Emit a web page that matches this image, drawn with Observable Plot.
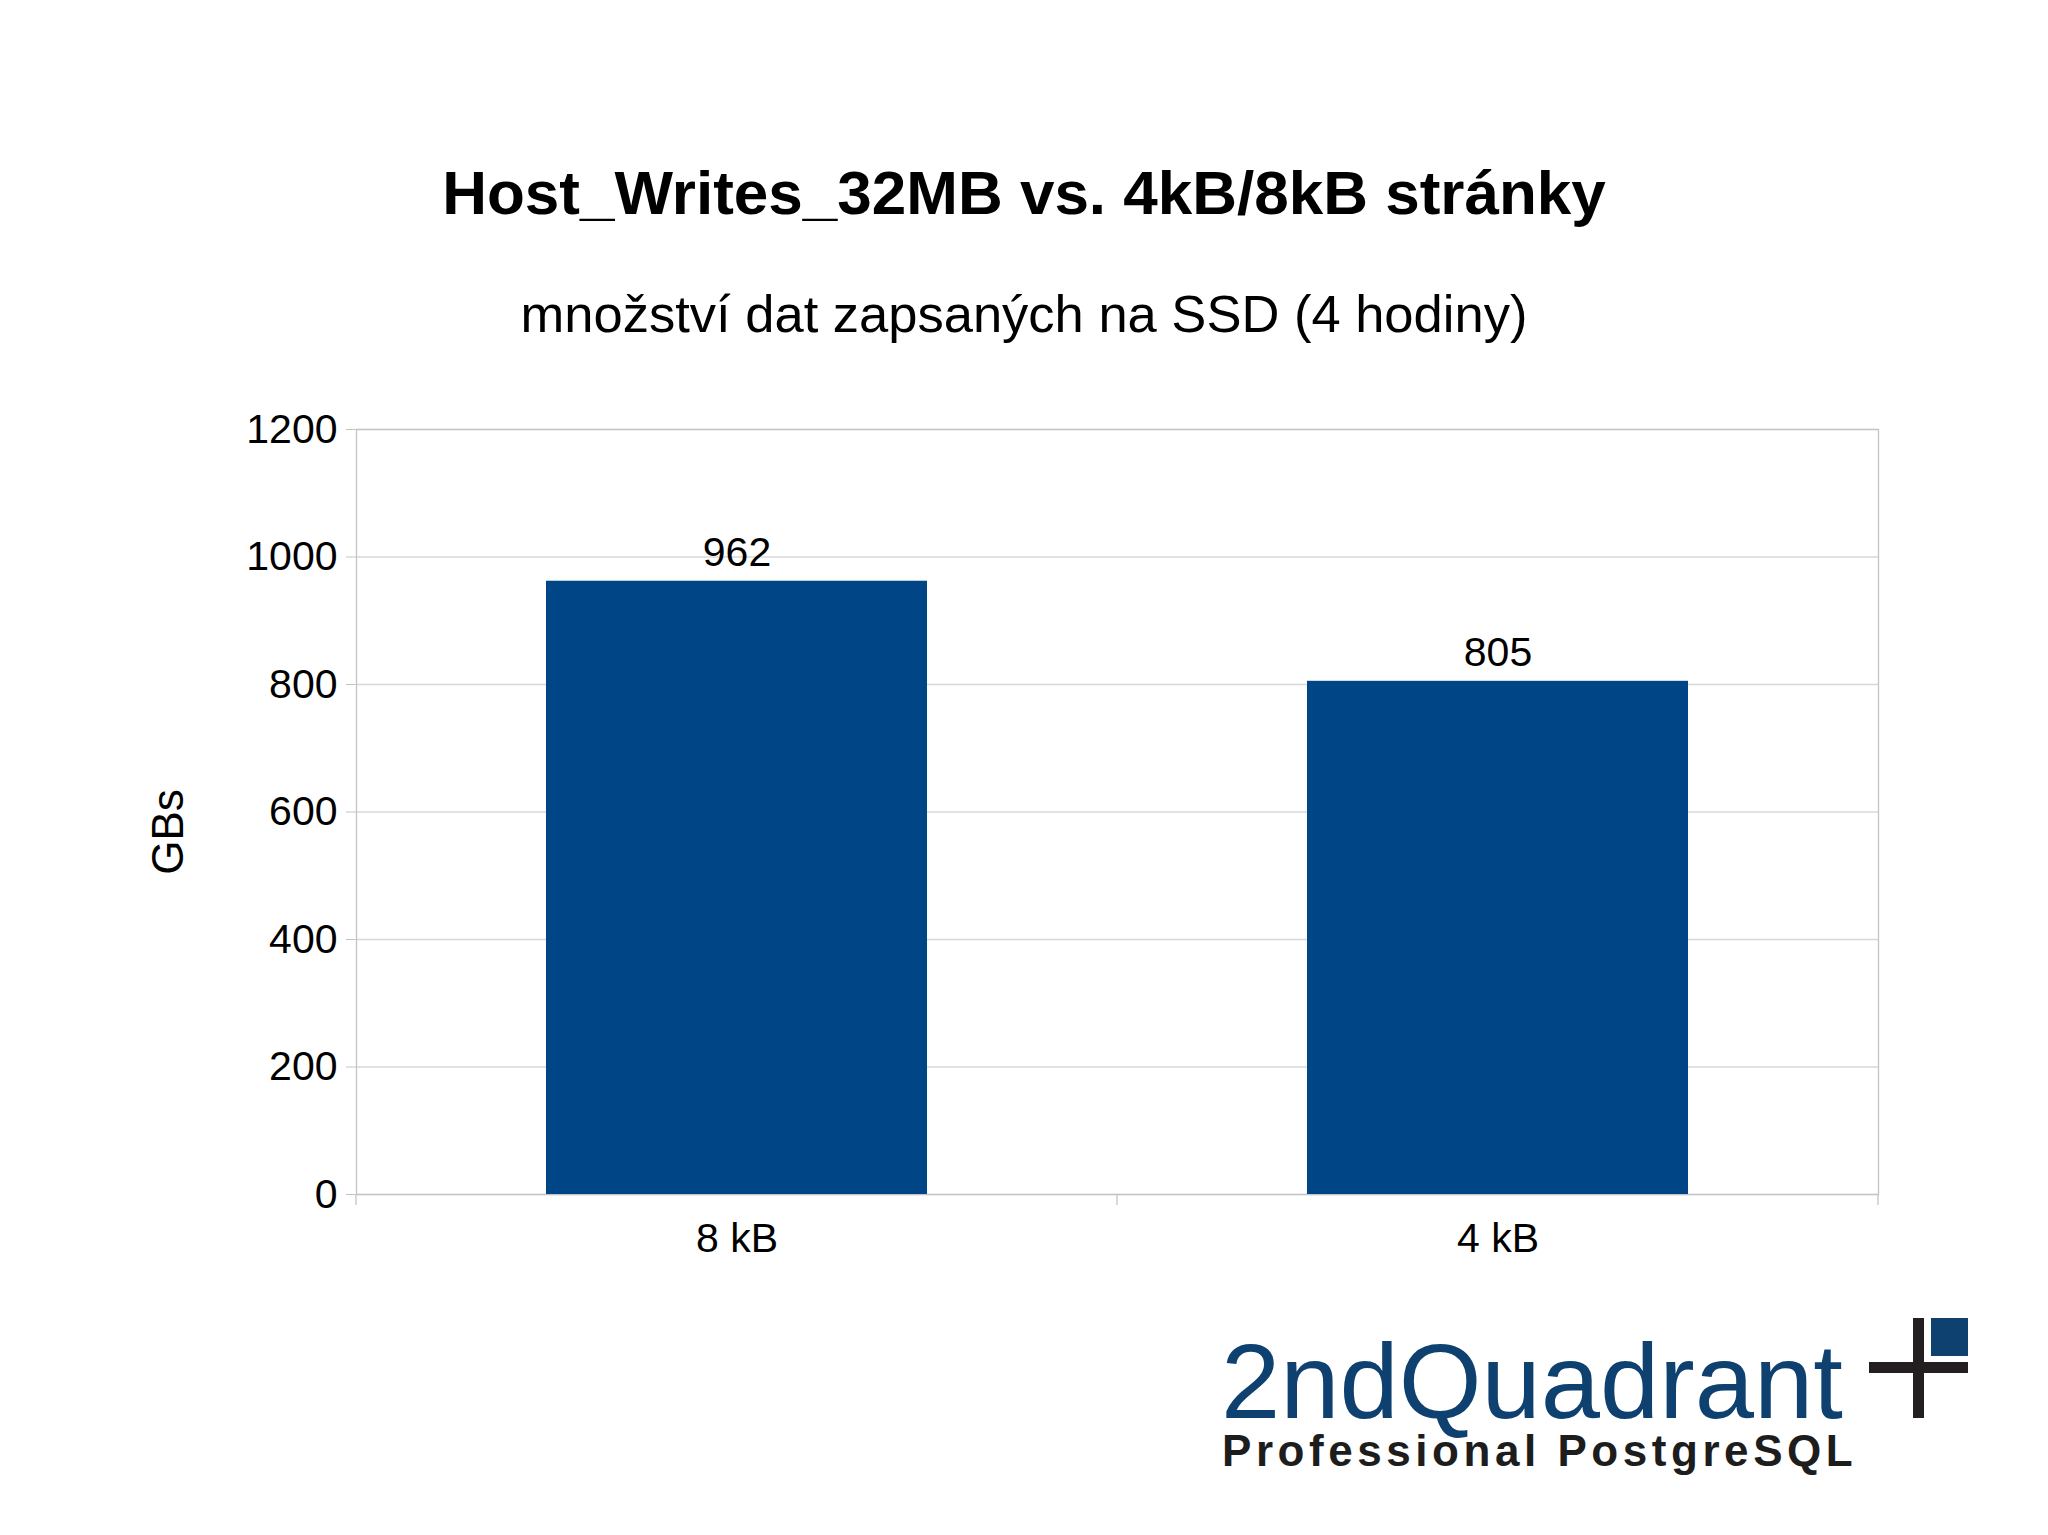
<!DOCTYPE html>
<html>
<head>
<meta charset="utf-8">
<script src="https://cdn.jsdelivr.net/npm/d3@7"></script>
<script src="https://cdn.jsdelivr.net/npm/@observablehq/plot@0.6"></script>
<style>
html, body { margin: 0; padding: 0; background: #fff; }
#page { position: relative; width: 2048px; height: 1535px; overflow: hidden; background: #fff;
  font-family: "Liberation Sans", Arial, sans-serif; color: #000; }
.abs { position: absolute; white-space: nowrap; line-height: 1; }
#chart { position: absolute; left: 0; top: 380px; }
</style>
</head>
<body>
<div id="page">
  <div class="abs" id="title" style="left:0;width:2048px;top:161.5px;text-align:center;font-size:62px;font-weight:bold;"></div>
  <div class="abs" id="subtitle" style="left:0;width:2048px;top:287.6px;text-align:center;font-size:52.5px;"></div>
  <div class="abs" id="ylabel" style="left:168px;top:832px;font-size:44px;transform:translate(-50%,-50%) rotate(-90deg);"></div>
  <div id="chart"></div>
  <div class="abs" id="logo1" style="left:1221px;top:1336.8px;font-size:106.5px;line-height:0.85;color:#0f4170;"></div>
  <div class="abs" id="logo2" style="left:1222px;top:1428.5px;font-size:44px;font-weight:bold;letter-spacing:4.55px;color:#1d1d1d;"></div>
  <div style="position:absolute;left:1913px;top:1318px;width:11px;height:100px;background:#231f20;"></div>
  <div style="position:absolute;left:1869px;top:1362px;width:99px;height:11px;background:#231f20;"></div>
  <div style="position:absolute;left:1931px;top:1318px;width:37px;height:38px;background:#0f4170;"></div>
</div>
<script>
// ---- data ----
const categories = ["8 kB", "4 kB"];
const values = [962, 805];
const yTicks = [0, 200, 400, 600, 800, 1000, 1200];
const titleText = "Host_Writes_32MB vs. 4kB/8kB stránky";
const subtitleText = "množství dat zapsaných na SSD (4 hodiny)";
const yLabelText = "GBs";
const logoMain = "2ndQuadrant";
const logoSub = "Professional PostgreSQL";

document.getElementById("title").textContent = titleText;
document.getElementById("subtitle").textContent = subtitleText;
document.getElementById("ylabel").textContent = yLabelText;
document.getElementById("logo1").textContent = logoMain;
document.getElementById("logo2").textContent = logoSub;

const data = categories.map((c, i) => ({category: c, value: values[i]}));

const gridColor = "#d8d8d8";
const axisColor = "#c4c4c4";

const chart = Plot.plot({
  width: 2048,
  height: 880,
  marginTop: 49,
  marginBottom: 66,
  marginLeft: 356,
  marginRight: 170,
  style: {fontFamily: "Liberation Sans, Arial, sans-serif", background: "transparent", color: "#000"},
  x: {domain: categories, paddingInner: 0.5, paddingOuter: 0.25, label: null},
  y: {domain: [0, 1200], label: null},
  marks: [
    Plot.gridY(yTicks, {stroke: gridColor, strokeOpacity: 1, strokeWidth: 1.3}),
    Plot.frame({stroke: axisColor, strokeWidth: 1.3}),
    Plot.barY(data, {x: "category", y: "value", fill: "#004586"}),
    Plot.text(data, {x: "category", y: "value", text: d => String(d.value), lineAnchor: "bottom", dy: -15, fontSize: 41, fill: "#000"}),
    Plot.axisY({ticks: yTicks, tickSize: 10, tickPadding: 9, fontSize: 41, stroke: axisColor, strokeOpacity: 1, label: null, tickFormat: d => String(d)}),
    Plot.axisX({tickSize: 0, tickPadding: 28, fontSize: 41, label: null})
  ]
});
document.getElementById("chart").appendChild(chart);

// x-axis ticks at band boundaries, computed from the chart's x scale
const xs = chart.scale("x");
const starts = categories.map(c => xs.apply(c));
const step = xs.step ?? (starts[1] - starts[0]);
const bw = xs.bandwidth ?? step * 0.5;
const gap = (step - bw) / 2;
const bounds = [starts[0] - gap, ...starts.map(s => s + bw + gap)];
const yb = chart.scale("y").apply(0);
d3.select(chart).append("g")
  .selectAll("line").data(bounds).join("line")
  .attr("x1", d => d).attr("x2", d => d)
  .attr("y1", yb).attr("y2", yb + 11)
  .attr("stroke", axisColor).attr("stroke-width", 1.3);
</script>
</body>
</html>
